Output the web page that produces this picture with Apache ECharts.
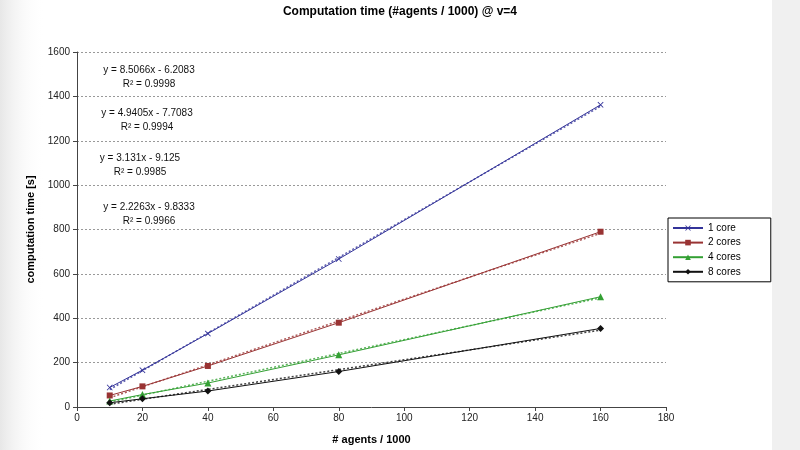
<!DOCTYPE html>
<html>
<head>
<meta charset="utf-8">
<script src="https://cdn.jsdelivr.net/npm/echarts@6/dist/echarts.min.js"></script>
<style>html,body{margin:0;padding:0;background:#fff}#c{width:800px;height:450px}</style>
</head>
<body>
<div id="c"></div>
<script>
const agents = [10, 20, 40, 80, 160];
const seriesNames = ['1 core', '2 cores', '4 cores', '8 cores'];
const core1 = [88, 166, 331, 667, 1362];
const core2 = [52, 93, 185, 380, 790];
const core4 = [27, 56, 108, 235, 497];
const core8 = [19, 37, 72, 160, 354];
const slopes = [8.5066, 4.9405, 3.131, 2.2263];
const intercepts = [-6.2083, -7.7083, -9.125, -9.8333];
const equations = ['y = 8.5066x - 6.2083', 'y = 4.9405x - 7.7083', 'y = 3.131x - 9.125', 'y = 2.2263x - 9.8333'];
const r2Labels = ['R² = 0.9998', 'R² = 0.9994', 'R² = 0.9985', 'R² = 0.9966'];
const xTicks = [0, 20, 40, 60, 80, 100, 120, 140, 160, 180];
const yTicks = [0, 200, 400, 600, 800, 1000, 1200, 1400, 1600];

const values = [core1, core2, core4, core8];
const colors = ['#333399', '#993333', '#33a033', '#111111'];
const symbols = [
  'path://M0,1L1,0L5,4L9,0L10,1L6,5L10,9L9,10L5,6L1,10L0,9L4,5Z',
  'rect', 'triangle', 'diamond'
];
const symbolSizes = [6, 6, 7, 7];
const FONT = 'Liberation Sans, Arial, sans-serif';

const series = [];
seriesNames.forEach((name, i) => {
  series.push({
    name: name,
    type: 'line',
    data: agents.map((a, k) => [a, values[i][k]]),
    symbol: symbols[i],
    symbolSize: symbolSizes[i],
    itemStyle: { color: colors[i] },
    lineStyle: { color: colors[i], width: 1 },
    z: 3
  });
});
seriesNames.forEach((name, i) => {
  const x0 = agents[0], x1 = agents[agents.length - 1];
  series.push({
    name: name + ' trend',
    type: 'line',
    data: [[x0, slopes[i] * x0 + intercepts[i]], [x1, slopes[i] * x1 + intercepts[i]]],
    symbol: 'none',
    lineStyle: { color: colors[i], width: 1.5, type: [2, 2], opacity: 0.8 },
    silent: true,
    z: 2
  });
});

const eqCenters = [[149, 70], [147, 113], [140, 158], [149, 207]];
const graphics = [
  { type: 'rect', left: 0, top: 0, shape: { width: 45, height: 450 }, z: -10, silent: true,
    style: { fill: { type: 'linear', x: 0, y: 0, x2: 1, y2: 0, colorStops: [
      { offset: 0, color: 'rgba(215,215,215,0.6)' }, { offset: 1, color: 'rgba(255,255,255,0)' } ] } } },
  { type: 'rect', left: 772, top: 0, shape: { width: 28, height: 450 }, z: -10, silent: true,
    style: { fill: '#f0f0f0' } }
];
equations.forEach((eq, i) => {
  graphics.push({ type: 'text', x: eqCenters[i][0], y: eqCenters[i][1], z: 10,
    style: { text: eq, font: '10px ' + FONT, fill: '#111', align: 'center', verticalAlign: 'middle' } });
  graphics.push({ type: 'text', x: eqCenters[i][0], y: eqCenters[i][1] + 14, z: 10,
    style: { text: r2Labels[i], font: '10px ' + FONT, fill: '#111', align: 'center', verticalAlign: 'middle' } });
});

const chart = echarts.init(document.getElementById('c'));
chart.setOption({
  animation: false,
  backgroundColor: '#ffffff',
  title: {
    text: 'Computation time (#agents / 1000) @ v=4',
    left: 395, top: 1, textAlign: 'center',
    textStyle: { fontFamily: FONT, fontSize: 12, fontWeight: 'bold', color: '#000' }
  },
  grid: { left: 77, right: 134, top: 52, bottom: 38, containLabel: false },
  legend: {
    data: seriesNames,
    orient: 'vertical',
    left: 668, top: 218,
    padding: [5, 30, 5, 4],
    itemWidth: 30, itemHeight: 7, itemGap: 4.6,
    backgroundColor: '#fff',
    borderColor: '#000', borderWidth: 1, borderRadius: 0,
    textStyle: { fontFamily: FONT, fontSize: 10, color: '#000' }
  },
  xAxis: {
    type: 'value', min: xTicks[0], max: xTicks[xTicks.length - 1], interval: xTicks[1] - xTicks[0],
    name: '# agents / 1000', nameLocation: 'middle', nameGap: 27,
    nameTextStyle: { fontFamily: FONT, fontSize: 11, fontWeight: 'bold', color: '#000' },
    axisLine: { lineStyle: { color: '#444', width: 1 } },
    axisTick: { show: true, length: 4, lineStyle: { color: '#444' } },
    axisLabel: { fontFamily: FONT, fontSize: 10, color: '#222', margin: 6, formatter: v => String(v) },
    splitLine: { show: false }
  },
  yAxis: {
    type: 'value', min: yTicks[0], max: yTicks[yTicks.length - 1], interval: yTicks[1] - yTicks[0],
    name: 'computation time [s]', nameLocation: 'middle', nameGap: 38,
    nameTextStyle: { fontFamily: FONT, fontSize: 11, fontWeight: 'bold', color: '#000' },
    axisLine: { show: true, lineStyle: { color: '#444', width: 1 } },
    axisTick: { show: true, length: 4, lineStyle: { color: '#444' } },
    axisLabel: { fontFamily: FONT, fontSize: 10, color: '#222', margin: 7, formatter: v => String(v) },
    splitLine: { show: true, lineStyle: { color: '#999', type: [2, 2], width: 1 } }
  },
  graphic: graphics,
  series: series
});
</script>
</body>
</html>
